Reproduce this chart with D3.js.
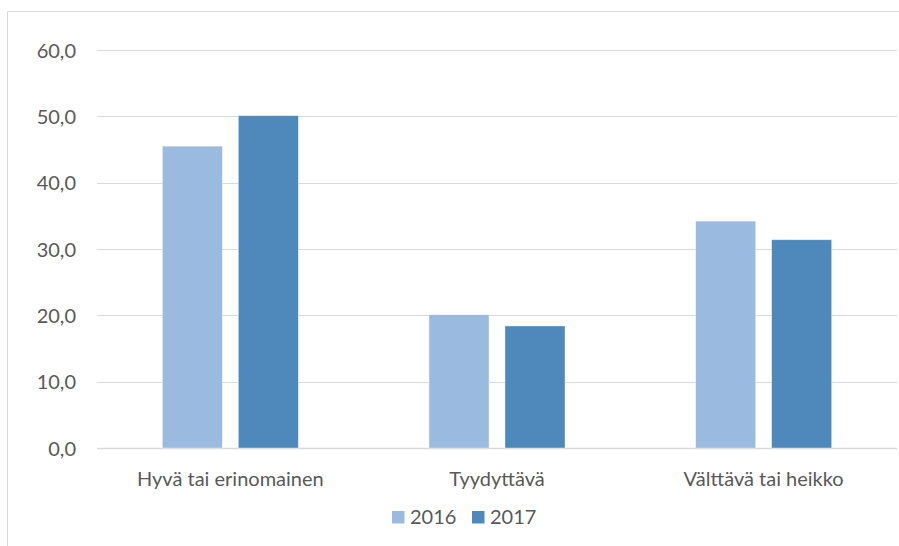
<!DOCTYPE html>
<html>
<head>
<meta charset="utf-8">
<script src="https://cdn.jsdelivr.net/npm/d3@7"></script>
<style>
  body { margin: 0; background: #fff; }
  svg text { font-family: Lato, "Open Sans", sans-serif; fill: #595959; }
</style>
</head>
<body>
<div id="chart"></div>
<script>
// Chart data
const categories = ["Hyvä tai erinomainen", "Tyydyttävä", "Välttävä tai heikko"];
const seriesNames = ["2016", "2017"];
const values2016 = [45.5, 20.1, 34.2];
const values2017 = [50.1, 18.4, 31.4];
const yTicks = [0, 10, 20, 30, 40, 50, 60];
const colors = ["#9bbae0", "#4f89bc"];

const W = 899, H = 546;
const margin = { top: 50, right: 2, bottom: 98, left: 97 };
const width = W - margin.left - margin.right;
const height = H - margin.top - margin.bottom;
const fontSize = 20;

const svg = d3.select("#chart")
  .append("svg")
    .attr("width", W)
    .attr("height", H);

// chart frame (left and top edges visible)
svg.append("path")
  .attr("d", `M7.5,${H} V11.5 H${W}`)
  .attr("fill", "none")
  .attr("stroke", "#d9d9d9")
  .attr("stroke-width", 1);

const g = svg.append("g")
  .attr("transform", `translate(${margin.left},${margin.top})`);

// Scales
const x0 = d3.scaleBand()
  .domain(categories)
  .range([0, width]);

const x1 = d3.scaleBand()
  .domain(seriesNames)
  .range([x0.bandwidth() / 2 - 68, x0.bandwidth() / 2 + 68])
  .paddingInner(0.21);

const y = d3.scaleLinear()
  .domain([0, 60])
  .range([height, 0]);

// Gridlines
g.append("g")
  .selectAll("line")
  .data(yTicks)
  .join("line")
    .attr("x1", 0)
    .attr("x2", width)
    .attr("y1", d => Math.round(y(d)) + 0.5)
    .attr("y2", d => Math.round(y(d)) + 0.5)
    .attr("stroke", "#d9d9d9")
    .attr("stroke-width", d => d === 0 ? 1.5 : 1.2);

// Y axis labels
const yAxis = g.append("g")
  .call(d3.axisLeft(y).tickValues(yTicks).tickSize(0).tickPadding(21)
    .tickFormat(d => d3.format(".1f")(d).replace(".", ",")));
yAxis.select(".domain").remove();
yAxis.selectAll("text")
  .attr("dy", "0.36em")
  .attr("font-size", fontSize)
  .attr("font-family", "Lato, sans-serif")
  .attr("fill", "#595959");

// Bars
const data = categories.map((c, i) => ({ cat: c, vals: [values2016[i], values2017[i]] }));
const groups = g.selectAll(".grp")
  .data(data)
  .join("g")
    .attr("class", "grp")
    .attr("transform", d => `translate(${x0(d.cat)},0)`);

groups.selectAll("rect")
  .data(d => d.vals.map((v, j) => ({ key: seriesNames[j], v: v, j: j })))
  .join("rect")
    .attr("x", d => x1(d.key))
    .attr("y", d => y(d.v))
    .attr("width", x1.bandwidth())
    .attr("height", d => height - y(d.v))
    .attr("fill", d => colors[d.j])
    .attr("stroke", "#fff")
    .attr("stroke-opacity", 0.5)
    .attr("stroke-width", 0.75);

// X axis labels
const xAxis = g.append("g")
  .attr("transform", `translate(0,${height})`)
  .call(d3.axisBottom(x0).tickSize(0).tickPadding(24));
xAxis.select(".domain").remove();
xAxis.selectAll("text")
  .attr("font-size", fontSize)
  .attr("font-family", "Lato, sans-serif")
  .attr("fill", "#595959");

// Legend
const legend = svg.append("g")
  .attr("transform", "translate(392,511)");
const items = legend.selectAll("g")
  .data(seriesNames)
  .join("g")
    .attr("transform", (d, i) => `translate(${i * 80},0)`);
items.append("rect")
  .attr("width", 12.5)
  .attr("height", 12.5)
  .attr("fill", (d, i) => colors[i]);
items.append("text")
  .attr("x", 18)
  .attr("y", 13)
  .attr("font-size", fontSize)
  .text(d => d);
</script>
</body>
</html>
